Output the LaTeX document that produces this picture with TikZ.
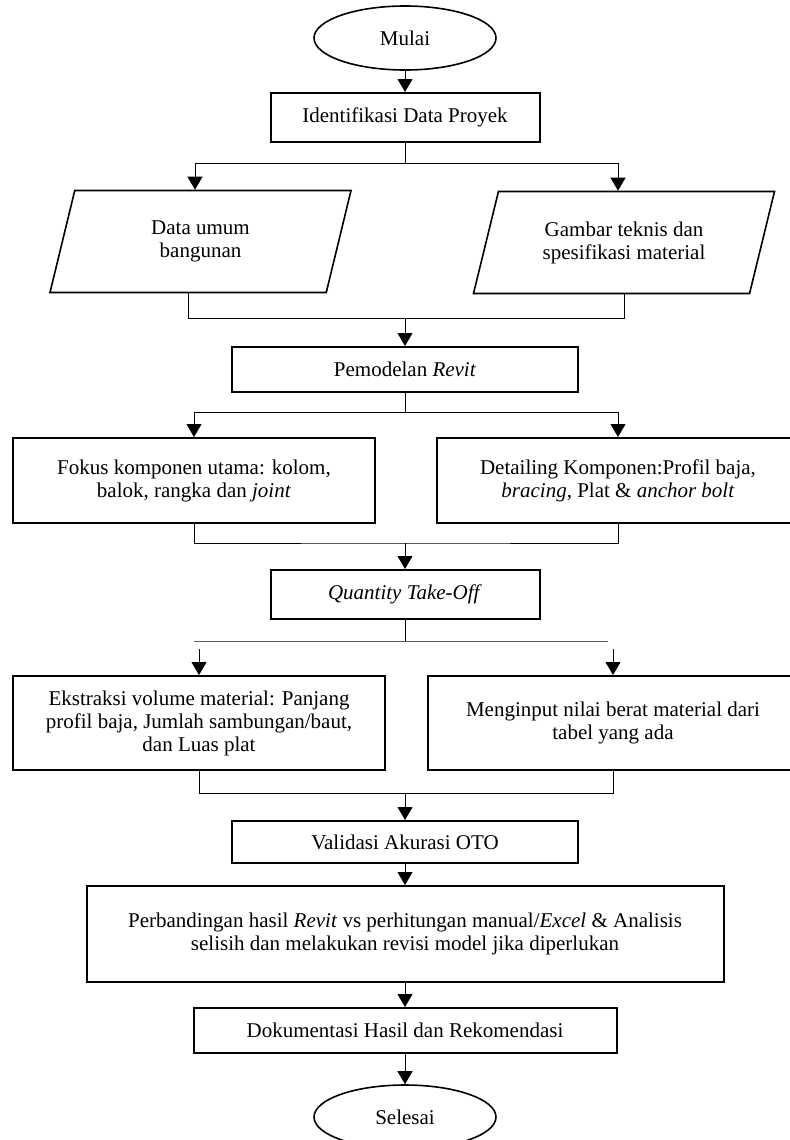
\documentclass[tikz,border=0pt]{standalone}
\usepackage{fontspec}
\setmainfont{Liberation Serif}
\usetikzlibrary{shapes.geometric,arrows.meta}

\begin{document}
\begin{tikzpicture}[x=0.5pt,y=-0.5pt,
    font=\fontsize{10.5}{11.5}\selectfont,
    terminal/.style={ellipse, draw, line width=0.8pt, minimum width=91pt, minimum height=32pt},
    process/.style={rectangle, draw, line width=1pt, align=center},
    iobox/.style={trapezium, trapezium left angle=76, trapezium right angle=104,
        trapezium stretches body, draw, line width=0.8pt, align=center,
        inner ysep=14.5pt, minimum width=150.5pt, minimum height=51pt},
    arrow/.style={-{Triangle[length=6.5pt,width=7.5pt]}, line width=0.5pt},
    line/.style={line width=0.5pt}]
    \useasboundingbox (0,0) rectangle (789,1140);

    % Start and project data
    \node[terminal] (mulai) at (405,38) {Mulai};
    \node[process, minimum width=134.5pt, minimum height=24.5pt] (ident) at (405,117.5) {Identifikasi Data Proyek};
    \node[iobox] (umum) at (200.5,241.5) {Data umum\\bangunan};
    \node[iobox] (gambar) at (624,242.5) {Gambar teknis dan\\spesifikasi material};

    % Modelling
    \node[process, minimum width=173pt, minimum height=22.5pt] (model) at (405,369.5) {Pemodelan \textit{Revit}};
    \node[process, minimum width=181pt, minimum height=42.5pt] (fokus) at (194,480.5)
        {Fokus komponen utama: kolom,\\balok, rangka dan \textit{joint}};
    \node[process, minimum width=181pt, minimum height=42.5pt] (detail) at (618,480.5)
        {Detailing Komponen:Profil baja,\\\textit{bracing}, Plat \& \textit{anchor bolt}};

    % Quantity take-off
    \node[process, minimum width=134.5pt, minimum height=24.5pt] (qto) at (405,594.5) {\textit{Quantity Take-Off}};
    \node[process, minimum width=186pt, minimum height=47pt] (ekstrak) at (199,723)
        {Ekstraksi volume material: Panjang\\profil baja, Jumlah sambungan/baut,\\dan Luas plat};
    \node[process, minimum width=185pt, minimum height=47pt] (input) at (613,723)
        {Menginput nilai berat material dari\\tabel yang ada};

    % Validation and closing
    \node[process, minimum width=173pt, minimum height=21pt] (valid) at (405,842) {Validasi Akurasi OTO};
    \node[process, minimum width=318.5pt, minimum height=48pt] (banding) at (405,934)
        {Perbandingan hasil \textit{Revit} vs perhitungan manual/\textit{Excel} \& Analisis\\selisih dan melakukan revisi model jika diperlukan};
    \node[process, minimum width=211.5pt, minimum height=22.5pt] (dok) at (405,1030.5) {Dokumentasi Hasil dan Rekomendasi};
    \node[terminal] (selesai) at (405,1117) {Selesai};

    % Branch and join points
    \coordinate (s1) at (405,163);
    \coordinate (s1l) at (195,163);
    \coordinate (s1r) at (618,163);
    \coordinate (j1) at (405,318);
    \coordinate (j1l) at (188,318);
    \coordinate (j1r) at (624,318);
    \coordinate (s2) at (405,412);
    \coordinate (j2) at (405,543);
    \coordinate (s3) at (405,641);
    \coordinate (s3l) at (194,641);
    \coordinate (s3r) at (608,641);
    \coordinate (a3l) at (199,649);
    \coordinate (a3r) at (613,649);
    \coordinate (j3) at (405,793);

    % Connectors
    \draw[arrow] (mulai) -- (ident);
    \draw[line] (ident) -- (s1);
    \draw[line] (s1l) -- (s1r);
    \draw[arrow] (s1l) -- (s1l |- umum.north);
    \draw[arrow] (s1r) -- (s1r |- gambar.north);
    \draw[line] (j1l |- umum.south) -- (j1l) -- (j1r) -- (j1r |- gambar.south);
    \draw[arrow] (j1) -- (model);

    \draw[line] (model) -- (s2);
    \draw[arrow] (s2) -| (fokus);
    \draw[arrow] (s2) -| (detail);
    \draw[line] (fokus) |- (j2) -| (detail);
    \draw[arrow] (j2) -- (qto);

    \draw[line] (qto) -- (s3);
    \draw[line, black!65] (s3l) -- (s3r);
    \draw[arrow] (a3l) -- (ekstrak);
    \draw[arrow] (a3r) -- (input);
    \draw[line] (ekstrak) |- (j3) -| (input);
    \draw[arrow] (j3) -- (valid);

    \draw[arrow] (valid) -- (banding);
    \draw[arrow] (banding) -- (dok);
    \draw[arrow] (dok) -- (selesai);
\end{tikzpicture}
\end{document}
